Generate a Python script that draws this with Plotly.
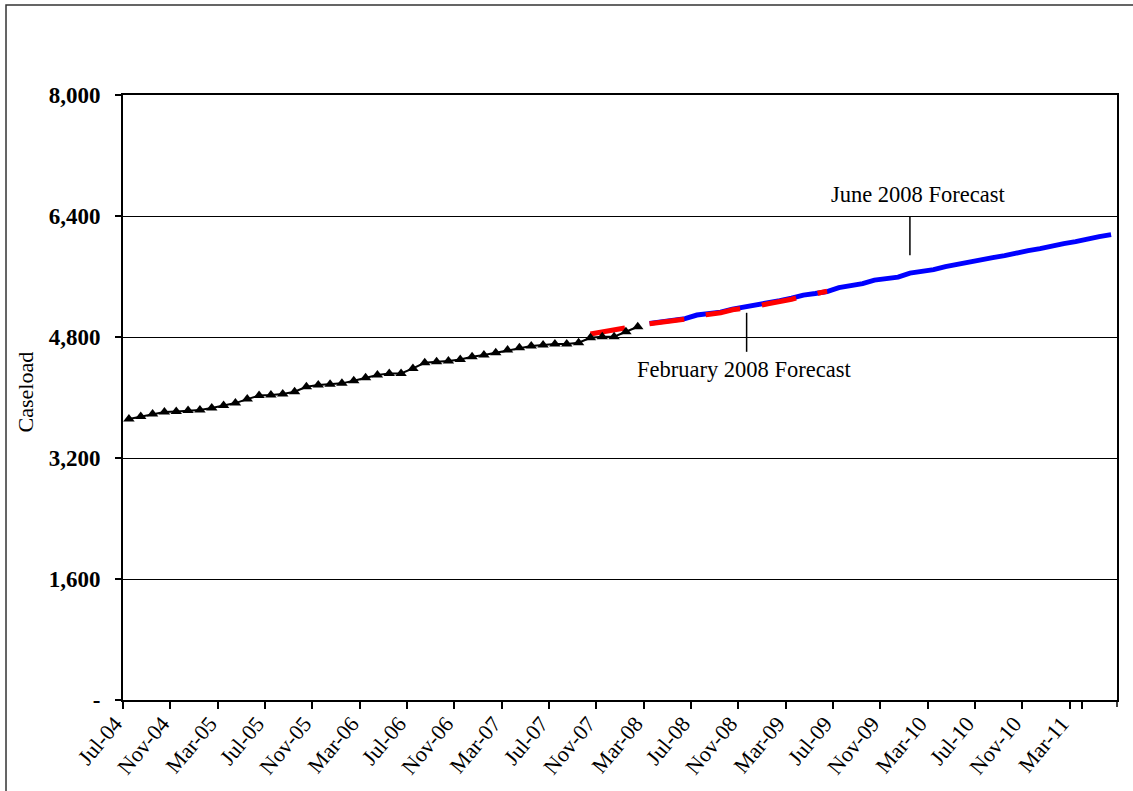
import pandas as pd
import plotly.graph_objects as go

# Monthly categories, Jul-04 through Jun-11
MONTHS = list(pd.date_range("2004-07-01", periods=84, freq="MS").strftime("%b-%y"))

TICK_LABELS = ["Jul-04", "Nov-04", "Mar-05", "Jul-05", "Nov-05", "Mar-06", "Jul-06",
               "Nov-06", "Mar-07", "Jul-07", "Nov-07", "Mar-08", "Jul-08", "Nov-08",
               "Mar-09", "Jul-09", "Nov-09", "Mar-10", "Jul-10", "Nov-10", "Mar-11"]

Y_TICKS = [0, 1600, 3200, 4800, 6400, 8000]
Y_TICK_TEXT = ["-", "1,600", "3,200", "4,800", "6,400", "8,000"]

# Actual caseload, Jul-04 .. Feb-08
ACTUAL = [3715, 3748, 3781, 3807, 3814, 3827, 3834, 3860, 3893, 3926,
          3979, 4025, 4032, 4045, 4076, 4142, 4164, 4174, 4187, 4221,
          4261, 4297, 4319, 4319, 4385, 4459, 4472, 4482, 4504, 4538,
          4561, 4591, 4627, 4657, 4680, 4693, 4706, 4706, 4724, 4790,
          4803, 4803, 4869, 4935]

# February 2008 forecast, Oct-07 .. Jun-09 (no value for Feb-08)
FEB_FORECAST = [4840, 4868, 4895, 4922, None,
                4975, 4995, 5015, 5035, 5080, 5095, 5120, 5160, 5180, 5205,
                5240, 5265, 5300, 5340, 5365, 5405]

# June 2008 forecast, Mar-08 .. Jun-11
JUNE_FORECAST = [4980, 5004, 5024, 5043, 5090, 5110, 5129, 5169, 5195, 5215,
                 5255, 5281, 5314, 5354, 5374, 5400, 5453, 5480, 5506, 5552,
                 5572, 5592, 5645, 5665, 5691, 5731, 5764, 5784, 5830, 5850,
                 5876, 5916, 5942, 5969, 6009, 6035, 6061, 6101, 6127, 6154]

x_actual = MONTHS[:len(ACTUAL)]
feb_start = MONTHS.index("Oct-07")
x_feb = MONTHS[feb_start:feb_start + len(FEB_FORECAST)]
june_start = MONTHS.index("Mar-08")
x_june = MONTHS[june_start:june_start + len(JUNE_FORECAST)]

SERIF = "Liberation Serif, Times New Roman, serif"

fig = go.Figure()

fig.add_trace(go.Scatter(
    x=x_june, y=JUNE_FORECAST, mode="lines", name="June 2008 Forecast",
    line=dict(color="rgb(0,0,255)", width=5),
))
fig.add_trace(go.Scatter(
    x=x_feb, y=FEB_FORECAST, mode="lines", name="February 2008 Forecast",
    line=dict(color="rgb(255,0,0)", width=5, dash="35px,22px"),
    connectgaps=False,
))
fig.add_trace(go.Scatter(
    x=x_actual, y=ACTUAL, mode="lines+markers", name="Actual",
    line=dict(color="black", width=2),
    marker=dict(symbol="triangle-up", size=10, color="black"),
))

# Forecast labels with leader lines
fig.add_annotation(x=66.7, y=6690, xref="x", yref="y", text="June 2008 Forecast",
                   showarrow=False, font=dict(family=SERIF, size=22.5, color="black"))
fig.add_shape(type="line", xref="x", yref="y", x0=66, x1=66, y0=6400, y1=5880,
              line=dict(color="black", width=1.5))
fig.add_annotation(x=51.95, y=4376, xref="x", yref="y", text="February 2008 Forecast",
                   showarrow=False, font=dict(family=SERIF, size=22.5, color="black"))
fig.add_shape(type="line", xref="x", yref="y", x0=52.2, x1=52.2, y0=5120, y1=4604,
              line=dict(color="black", width=1.5))

# Y-axis title
fig.add_annotation(x=-0.0986, y=0.51, xref="paper", yref="paper", text="Caseload",
                   textangle=-90, showarrow=False, xanchor="center", yanchor="middle",
                   font=dict(family=SERIF, size=22, color="black"))

# Closing tick at the right end of the category axis
fig.add_shape(type="line", xref="paper", yref="paper", x0=1, x1=1, y0=0, y1=-0.0116,
              line=dict(color="black", width=1.5))

# Outer chart frame
fig.add_shape(type="rect", xref="paper", yref="paper",
              x0=-0.1177, x1=1.02, y0=-0.2, y1=1.1488,
              line=dict(color="#333333", width=1.5), fillcolor="rgba(0,0,0,0)")

fig.update_xaxes(
    type="category", categoryorder="array", categoryarray=MONTHS,
    range=[-0.5, len(MONTHS) - 0.5],
    tickmode="array", tickvals=TICK_LABELS, ticktext=TICK_LABELS,
    tickson="boundaries", ticks="outside", ticklen=7, tickwidth=1.5, tickcolor="black",
    tickangle=-50, ticklabelshift=-14,
    tickfont=dict(family=SERIF, size=22, color="black"),
    showgrid=False, showline=True, linecolor="black", linewidth=2, mirror=True,
    zeroline=False,
)
fig.update_yaxes(
    range=[0, 8000], tickmode="array", tickvals=Y_TICKS, ticktext=Y_TICK_TEXT,
    ticks="outside", ticklen=6, tickwidth=1.5, tickcolor="black", ticklabelstandoff=10,
    tickfont=dict(family=SERIF, size=23, color="black", weight="bold"),
    showgrid=True, gridcolor="black", gridwidth=1,
    showline=True, linecolor="black", linewidth=2, mirror=True, zeroline=False,
)

fig.update_layout(
    width=1133, height=791,
    margin=dict(l=123, r=16, t=95, b=91),
    paper_bgcolor="white", plot_bgcolor="white",
    showlegend=False,
)

fig.write_html("out.html")
